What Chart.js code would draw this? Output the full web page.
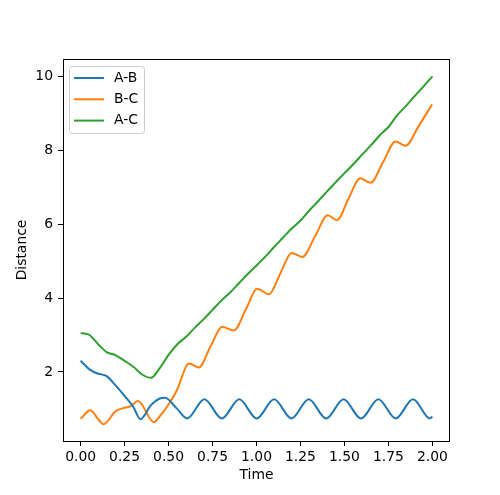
<!DOCTYPE html>
<html>
<head>
<meta charset="utf-8">
<script src="https://cdn.jsdelivr.net/npm/chart.js@4"></script>
<style>
  body { margin: 0; background: #fff; }
  #wrap { width: 500px; height: 495px; position: relative; }
</style>
</head>
<body>
<div id="wrap"><canvas id="grafico"></canvas></div>
<script>
// values
const abTime = [0, 0.05, 0.1, 0.13, 0.15, 0.2, 0.25, 0.3, 0.34, 0.4, 0.45, 0.48, 0.545, 0.606,
    0.704, 0.803, 0.902, 1.001, 1.1, 1.199, 1.297, 1.396, 1.495, 1.594, 1.693, 1.791, 1.89, 1.985, 2.0];
const abDist = [2.30, 2.07, 1.95, 1.92, 1.88, 1.63, 1.35, 1.05, 0.72, 1.10, 1.28, 1.30, 1.02, 0.74,
    1.26, 0.74, 1.26, 0.74, 1.26, 0.74, 1.26, 0.74, 1.26, 0.74, 1.26, 0.74, 1.26, 0.74, 0.79];

const bcTime = [0, 0.055, 0.1, 0.13, 0.2, 0.25, 0.284, 0.326, 0.417, 0.45, 0.5, 0.55, 0.6, 0.616, 0.672,
    0.74, 0.805, 0.871, 0.94, 1.004, 1.07, 1.135, 1.2, 1.26, 1.333, 1.405, 1.458, 1.524, 1.59, 1.648,
    1.72, 1.79, 1.847, 1.92, 1.998];
const bcDist = [0.73, 0.96, 0.72, 0.585, 0.94, 1.03, 1.07, 1.21, 0.64, 0.80, 1.12, 1.53, 2.15, 2.23, 2.12,
    2.70, 3.22, 3.12, 3.70, 4.25, 4.10, 4.66, 5.22, 5.11, 5.67, 6.24, 6.11, 6.70, 7.24, 7.12,
    7.68, 8.24, 8.12, 8.64, 9.24];

const acTime = [0, 0.03, 0.05, 0.1, 0.15, 0.2, 0.25, 0.3, 0.35, 0.4, 0.45, 0.5, 0.55, 0.6, 0.65,
    0.7, 0.75, 0.8, 0.85, 0.9, 0.95, 1.0, 1.05, 1.1, 1.15, 1.2, 1.25, 1.3, 1.35, 1.4, 1.45, 1.5,
    1.55, 1.6, 1.65, 1.7, 1.75, 1.8, 1.85, 1.9, 1.95, 2.0];
const acDist = [3.05, 3.03, 3.0, 2.75, 2.53, 2.45, 2.30, 2.14, 1.93, 1.84, 2.10, 2.46, 2.75, 2.95, 3.20,
    3.43, 3.68, 3.93, 4.15, 4.40, 4.65, 4.88, 5.12, 5.38, 5.63, 5.88, 6.10, 6.37, 6.62, 6.88, 7.13, 7.38,
    7.62, 7.88, 8.13, 8.40, 8.63, 8.95, 9.20, 9.47, 9.73, 10.0];

const xTicks = [0, 0.25, 0.5, 0.75, 1.0, 1.25, 1.5, 1.75, 2.0];
const yTicks = [2, 4, 6, 8, 10];

const fonte = "'DejaVu Sans', sans-serif";

function pontos(ts, vs) {
    return ts.map((t, i) => ({ x: t, y: vs[i] }));
}

// matplotlib style box round the plot and a legend inside it
const moldura = {
    id: 'moldura',
    afterDraw(chart) {
        const { ctx, chartArea: a } = chart;
        ctx.save();
        ctx.strokeStyle = '#000';
        ctx.lineWidth = 1;
        ctx.strokeRect(a.left + 0.5, a.top + 0.5, a.right - a.left - 1, a.bottom - a.top);

        const bx = a.left + 6, by = a.top + 7, bw = 75, bh = 67;
        ctx.beginPath();
        ctx.roundRect(bx + 0.5, by + 0.5, bw, bh, 3);
        ctx.fillStyle = 'rgba(255,255,255,0.8)';
        ctx.fill();
        ctx.strokeStyle = '#cccccc';
        ctx.stroke();

        ctx.font = '13.9px ' + fonte;
        ctx.textBaseline = 'middle';
        chart.data.datasets.forEach((ds, i) => {
            const y = by + 12 + i * 21.3;
            ctx.beginPath();
            ctx.moveTo(bx + 5, y);
            ctx.lineTo(bx + 35, y);
            ctx.strokeStyle = ds.borderColor;
            ctx.lineWidth = 2;
            ctx.stroke();
            ctx.fillStyle = '#000';
            ctx.fillText(ds.label, bx + 45, y);
        });
        ctx.restore();
    }
};

function serie(label, cor, ts, vs) {
    return {
        label: label,
        data: pontos(ts, vs),
        borderColor: cor,
        backgroundColor: cor,
        borderWidth: 2,
        pointRadius: 0,
        cubicInterpolationMode: 'monotone'
    };
}

new Chart(document.getElementById('grafico'), {
    type: 'line',
    data: {
        datasets: [
            serie('A-B', '#1f77b4', abTime, abDist),
            serie('B-C', '#ff7f0e', bcTime, bcDist),
            serie('A-C', '#2ca02c', acTime, acDist)
        ]
    },
    options: {
        responsive: true,
        maintainAspectRatio: false,
        animation: false,
        layout: { padding: { top: 59, right: 50, left: 0, bottom: 0 } },
        plugins: { legend: { display: false }, tooltip: { enabled: false } },
        scales: {
            x: {
                type: 'linear',
                min: -0.1,
                max: 2.1,
                afterBuildTicks: s => { s.ticks = xTicks.map(v => ({ value: v })); },
                afterFit: s => { s.height = 54; },
                ticks: {
                    color: '#000',
                    font: { family: fonte, size: 13.9 },
                    padding: 3,
                    maxRotation: 0,
                    callback: v => v.toFixed(2)
                },
                grid: { drawOnChartArea: false, drawTicks: true, tickLength: 5, color: '#000' },
                border: { display: false },
                title: {
                    display: true,
                    text: 'Time',
                    color: '#000',
                    font: { family: fonte, size: 13.9 },
                    padding: { top: 0, bottom: 11 }
                }
            },
            y: {
                type: 'linear',
                min: 0.13,
                max: 10.47,
                afterBuildTicks: s => { s.ticks = yTicks.map(v => ({ value: v })); },
                afterFit: s => { s.width = 63; },
                ticks: {
                    color: '#000',
                    font: { family: fonte, size: 13.9 },
                    padding: 5
                },
                grid: { drawOnChartArea: false, drawTicks: true, tickLength: 5, color: '#000' },
                border: { display: false },
                title: {
                    display: true,
                    text: 'Distance',
                    color: '#000',
                    font: { family: fonte, size: 13.9 },
                    padding: { top: 14, bottom: 0 }
                }
            }
        }
    },
    plugins: [moldura]
});
</script>
</body>
</html>
